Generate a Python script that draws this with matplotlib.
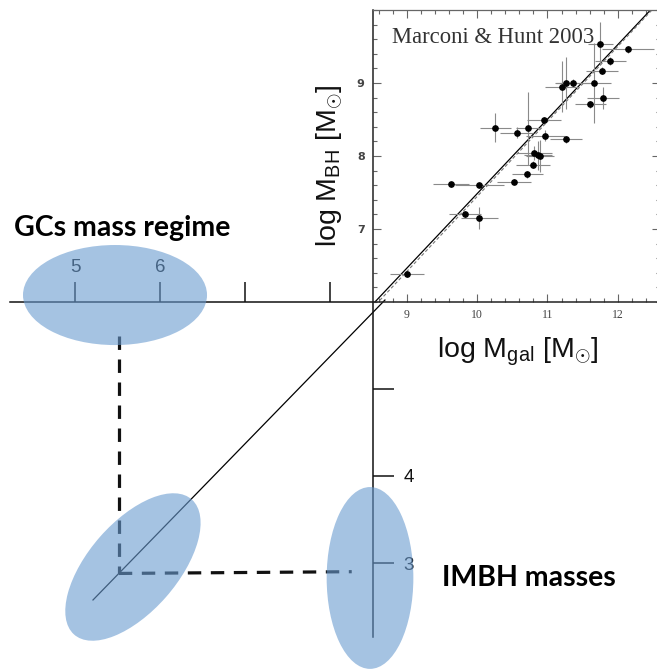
import matplotlib
matplotlib.use("Agg")
import matplotlib.pyplot as plt
from matplotlib.patches import Ellipse
from matplotlib.ticker import MultipleLocator, FixedLocator
import numpy as np

plt.rcParams["mathtext.fontset"] = "custom"
plt.rcParams["mathtext.rm"] = "Liberation Sans"
plt.rcParams["mathtext.it"] = "Liberation Sans:italic"

# ---- Marconi & Hunt (2003) bulge mass vs. black-hole mass sample ----
log_mgal = [9.00, 9.63, 10.03, 9.83, 10.03, 10.26, 10.56, 10.73, 10.95, 10.97,
            11.26, 10.81, 10.86, 10.90, 10.79, 10.71, 10.52, 11.20, 11.27, 11.36,
            11.66, 11.61, 11.79, 11.78, 11.89, 11.75, 12.15]
log_mbh = [6.39, 7.61, 7.60, 7.20, 7.15, 8.39, 8.32, 8.38, 8.49, 8.28,
           8.23, 8.04, 8.01, 8.00, 7.88, 7.75, 7.65, 8.95, 9.00, 9.00,
           9.00, 8.71, 8.79, 9.17, 9.30, 9.54, 9.46]
err_mgal = [0.24, 0.25, 0.35, 0.23, 0.26, 0.22, 0.24, 0.18, 0.24, 0.28,
            0.23, 0.25, 0.20, 0.20, 0.24, 0.22, 0.24, 0.23, 0.15, 0.25,
            0.24, 0.22, 0.23, 0.23, 0.22, 0.18, 0.37]
err_mbh = [0.05, 0.03, 0.03, 0.05, 0.15, 0.20, 0.08, 0.50, 0.05, 0.08,
           0.05, 0.10, 0.20, 0.22, 0.05, 0.05, 0.04, 0.35, 0.35, 0.05,
           0.55, 0.05, 0.15, 0.05, 0.05, 0.30, 0.05]

# best-fit relations (solid and dashed)
fit_gal = [8.40, 12.70]
fit_bh = [5.85, 10.24]
fit2_bh = [5.80, 10.22]

# ---- schematic extrapolation down to globular-cluster masses ----
gal_ticks = [5, 6, 7, 8]
gal_tick_labels = ["5", "6", "", ""]
bh_ticks = [5, 4, 3]
bh_tick_labels = ["", "4", "3"]
axis_gal_range = [4.23, 8.5]
axis_bh_range = [2.15, 6.0]
extrap_gal = [5.206, 8.641]
extrap_bh = [2.575, 6.023]

gc_log_mass = 5.51          # typical GC mass (log)
imbh_log_mass = 2.88        # implied IMBH mass (log)
gc_top_bh = 5.61

# shaded regimes: (centre x, centre y, width, height, angle)
gc_regime = (5.465, 6.08, 2.165, 1.15, 0)
relation_regime = (5.676, 2.954, 2.08, 1.04, 48)
imbh_regime = (8.465, 2.828, 1.02, 2.09, 0)

fig = plt.figure(figsize=(6.57, 6.71), dpi=100)

# main schematic axes covering the whole canvas
ax = fig.add_axes([0, 0, 1, 1])
ax.set_xlim(4.112, 4.112 + 657 / 85)
ax.set_ylim(6 - 369 / 87, 6 + 302 / 87)
ax.patch.set_visible(False)

for s in ["left", "bottom"]:
    ax.spines[s].set_visible(False)
ax.spines["top"].set_position(("data", 6.0))
ax.spines["top"].set_bounds(*axis_gal_range)
ax.spines["right"].set_position(("data", 8.5))
ax.spines["right"].set_bounds(*axis_bh_range)
for s in ["top", "right"]:
    ax.spines[s].set_linewidth(1.1)
    ax.spines[s].set_color("#111111")

ax.xaxis.tick_top()
ax.xaxis.set_major_locator(FixedLocator(gal_ticks))
ax.set_xticklabels(gal_tick_labels)
ax.yaxis.tick_right()
ax.yaxis.set_major_locator(FixedLocator(bh_ticks))
ax.set_yticklabels(bh_tick_labels)
ax.tick_params(axis="x", direction="out", length=14.5, width=1.1, pad=4,
               labelsize=13.5, colors="#111111")
ax.tick_params(axis="y", direction="out", length=15, width=1.1, pad=7,
               labelsize=13.5, colors="#111111")
for lab in ax.get_xticklabels() + ax.get_yticklabels():
    lab.set_fontfamily("Liberation Sans")

ax.plot(extrap_gal, extrap_bh, color="black", lw=0.9, clip_on=False, zorder=2)

dash = dict(color="#111111", lw=2.3, dashes=(4.2, 3.0), zorder=2)
ax.plot([gc_log_mass, gc_log_mass], [gc_top_bh, imbh_log_mass], **dash)
ax.plot([gc_log_mass, 8.25], [imbh_log_mass, imbh_log_mass + 0.02], **dash)

for cx, cy, w, h, ang in (gc_regime, relation_regime, imbh_regime):
    ax.add_patch(Ellipse((cx, cy), w, h, angle=ang, facecolor="#699bd0",
                         edgecolor="none", alpha=0.6, zorder=3))

ax.text(0.022, 1 - 228 / 671, "GCs mass regime", transform=ax.transAxes,
        fontfamily="Lato", fontweight="bold", fontsize=20.5, ha="left",
        va="center", color="black")
ax.text(442 / 657, 1 - 578 / 671, "IMBH masses", transform=ax.transAxes,
        fontfamily="Lato", fontweight="bold", fontsize=20.5, ha="left",
        va="center", color="black")

# inset: the observed relation
ins = fig.add_axes([373 / 657, 1 - 302 / 671, 287 / 657, 292 / 671])
ins.set_xlim(8.52, 12.6)
ins.set_ylim(6.0, 10.0)
ins.patch.set_visible(False)
for s in ins.spines.values():
    s.set_color("#666666")
    s.set_linewidth(0.9)
ins.spines["bottom"].set_color("#222222")
ins.spines["left"].set_color("#222222")
ins.spines["bottom"].set_linewidth(1.1)
ins.spines["left"].set_linewidth(1.1)

ins.xaxis.set_major_locator(MultipleLocator(1))
ins.xaxis.set_minor_locator(MultipleLocator(0.2))
ins.yaxis.set_major_locator(MultipleLocator(1))
ins.yaxis.set_minor_locator(MultipleLocator(0.2))
ins.tick_params(which="both", direction="in", top=True, right=True,
                colors="#666666", width=0.8)
ins.tick_params(which="major", length=6)
ins.tick_params(which="minor", length=3)
ins.tick_params(axis="x", labelsize=8.5, labelcolor="#444444", pad=5)
ins.tick_params(axis="y", labelsize=8, labelcolor="#444444", pad=6)
ins.set_yticks([7, 8, 9])
ins.set_yticklabels(["7", "8", "9"])
for lab in ins.get_xticklabels():
    lab.set_fontfamily("Liberation Serif")
for lab in ins.get_yticklabels():
    lab.set_fontfamily("DejaVu Sans")
    lab.set_fontweight("bold")

ins.errorbar(log_mgal, log_mbh, xerr=err_mgal, yerr=err_mbh, fmt="o",
             color="black", ms=3.8, ecolor="#8a8a8a", elinewidth=0.8,
             capsize=0, zorder=3)
ins.plot(fit_gal, fit_bh, color="black", lw=0.9, zorder=2)
ins.plot(fit_gal, fit2_bh, color="#777777", lw=0.8, ls=(0, (3, 2)), zorder=2)

ins.text(0.065, 0.905, "Marconi & Hunt 2003", transform=ins.transAxes,
         fontfamily="Liberation Serif", fontsize=16.3, color="#333333",
         ha="left", va="center")

ins.set_xlabel(r"log M$_{\mathrm{gal}}$ [M$_{\odot}$]", fontsize=20.5,
               fontfamily="Liberation Sans", color="#111111")
ins.set_ylabel(r"log M$_{\mathrm{BH}}$ [M$_{\odot}$]", fontsize=20.5,
               fontfamily="Liberation Sans", color="#111111")
ins.xaxis.label.set_va("center")
ins.yaxis.label.set_va("center")
ins.xaxis.set_label_coords((518 - 373) / 287, -(352 - 302) / 292)
ins.yaxis.set_label_coords(-(373 - 330) / 287, (302 - 166) / 292)

fig.savefig("out.png", dpi=100)
